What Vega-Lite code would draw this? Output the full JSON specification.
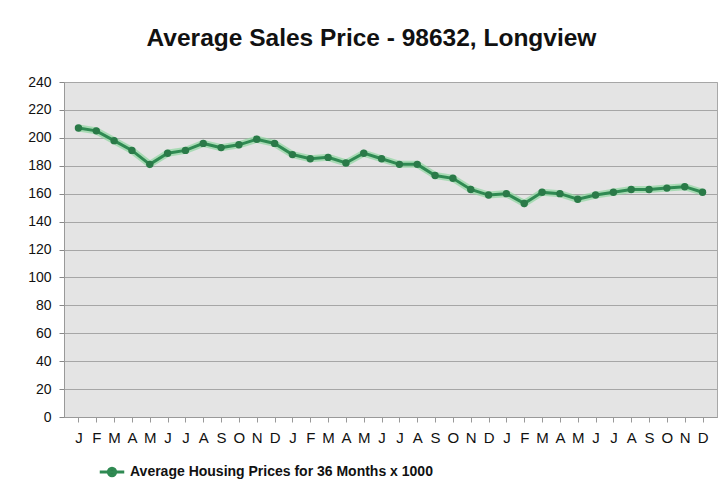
{
  "$schema": "https://vega.github.io/schema/vega-lite/v6.json",
  "width": 653,
  "height": 335,
  "autosize": "none",
  "padding": {"left": 64, "top": 82, "right": 11, "bottom": 71},
  "background": "white",
  "title": {
    "text": "Average Sales Price - 98632, Longview",
    "font": "Liberation Sans",
    "fontSize": 24.5,
    "fontWeight": "bold",
    "color": "#111111",
    "anchor": "middle",
    "dx": -19,
    "offset": 24
  },
  "data": {
    "values": [
      {"idx": 1, "price": 207, "series": "Average Housing Prices for 36 Months x 1000"},
      {"idx": 2, "price": 205, "series": "Average Housing Prices for 36 Months x 1000"},
      {"idx": 3, "price": 198, "series": "Average Housing Prices for 36 Months x 1000"},
      {"idx": 4, "price": 191, "series": "Average Housing Prices for 36 Months x 1000"},
      {"idx": 5, "price": 181, "series": "Average Housing Prices for 36 Months x 1000"},
      {"idx": 6, "price": 189, "series": "Average Housing Prices for 36 Months x 1000"},
      {"idx": 7, "price": 191, "series": "Average Housing Prices for 36 Months x 1000"},
      {"idx": 8, "price": 196, "series": "Average Housing Prices for 36 Months x 1000"},
      {"idx": 9, "price": 193, "series": "Average Housing Prices for 36 Months x 1000"},
      {"idx": 10, "price": 195, "series": "Average Housing Prices for 36 Months x 1000"},
      {"idx": 11, "price": 199, "series": "Average Housing Prices for 36 Months x 1000"},
      {"idx": 12, "price": 196, "series": "Average Housing Prices for 36 Months x 1000"},
      {"idx": 13, "price": 188, "series": "Average Housing Prices for 36 Months x 1000"},
      {"idx": 14, "price": 185, "series": "Average Housing Prices for 36 Months x 1000"},
      {"idx": 15, "price": 186, "series": "Average Housing Prices for 36 Months x 1000"},
      {"idx": 16, "price": 182, "series": "Average Housing Prices for 36 Months x 1000"},
      {"idx": 17, "price": 189, "series": "Average Housing Prices for 36 Months x 1000"},
      {"idx": 18, "price": 185, "series": "Average Housing Prices for 36 Months x 1000"},
      {"idx": 19, "price": 181, "series": "Average Housing Prices for 36 Months x 1000"},
      {"idx": 20, "price": 181, "series": "Average Housing Prices for 36 Months x 1000"},
      {"idx": 21, "price": 173, "series": "Average Housing Prices for 36 Months x 1000"},
      {"idx": 22, "price": 171, "series": "Average Housing Prices for 36 Months x 1000"},
      {"idx": 23, "price": 163, "series": "Average Housing Prices for 36 Months x 1000"},
      {"idx": 24, "price": 159, "series": "Average Housing Prices for 36 Months x 1000"},
      {"idx": 25, "price": 160, "series": "Average Housing Prices for 36 Months x 1000"},
      {"idx": 26, "price": 153, "series": "Average Housing Prices for 36 Months x 1000"},
      {"idx": 27, "price": 161, "series": "Average Housing Prices for 36 Months x 1000"},
      {"idx": 28, "price": 160, "series": "Average Housing Prices for 36 Months x 1000"},
      {"idx": 29, "price": 156, "series": "Average Housing Prices for 36 Months x 1000"},
      {"idx": 30, "price": 159, "series": "Average Housing Prices for 36 Months x 1000"},
      {"idx": 31, "price": 161, "series": "Average Housing Prices for 36 Months x 1000"},
      {"idx": 32, "price": 163, "series": "Average Housing Prices for 36 Months x 1000"},
      {"idx": 33, "price": 163, "series": "Average Housing Prices for 36 Months x 1000"},
      {"idx": 34, "price": 164, "series": "Average Housing Prices for 36 Months x 1000"},
      {"idx": 35, "price": 165, "series": "Average Housing Prices for 36 Months x 1000"},
      {"idx": 36, "price": 161, "series": "Average Housing Prices for 36 Months x 1000"}
    ]
  },
  "encoding": {
    "x": {
      "field": "idx",
      "type": "ordinal",
      "scale": {"type": "point", "padding": 0.81},
      "axis": {
        "title": null,
        "labelAngle": 0,
        "labelExpr": "['J','F','M','A','M','J','J','A','S','O','N','D'][(datum.value - 1) % 12]",
        "labelFont": "Liberation Sans",
        "labelFontSize": 15,
        "labelColor": "#111111",
        "labelPadding": 8,
        "tickColor": "#999999",
        "tickSize": 5,
        "domainColor": "#999999",
        "grid": false
      }
    },
    "y": {
      "field": "price",
      "type": "quantitative",
      "scale": {"domain": [0, 240], "nice": false},
      "axis": {
        "title": null,
        "values": [0, 20, 40, 60, 80, 100, 120, 140, 160, 180, 200, 220, 240],
        "labelFont": "Liberation Sans",
        "labelFontSize": 14,
        "labelColor": "#111111",
        "labelPadding": 8,
        "tickColor": "#888888",
        "tickSize": 5,
        "domainColor": "#999999",
        "grid": true,
        "gridColor": "#a6a6a6",
        "gridWidth": 1
      }
    }
  },
  "layer": [
    {
      "mark": {"type": "line", "color": "#8fd6a0", "strokeWidth": 7, "opacity": 0.7}
    },
    {
      "mark": {"type": "line", "strokeWidth": 3},
      "encoding": {
        "color": {
          "field": "series",
          "type": "nominal",
          "scale": {"range": ["#2f8a52"]},
          "legend": {
            "title": null,
            "orient": "none",
            "legendX": 34,
            "legendY": 376,
            "symbolType": "M-1,0H1M-0.3,0A0.3,0.3,0,1,1,0.3,0A0.3,0.3,0,1,1,-0.3,0Z",
            "symbolSize": 600,
            "symbolStrokeWidth": 3,
            "symbolFillColor": "#2a7a48",
            "symbolStrokeColor": "#2f8a52",
            "labelFont": "Liberation Sans",
            "labelFontSize": 14,
            "labelFontWeight": "bold",
            "labelColor": "#111111",
            "labelLimit": 500
          }
        }
      }
    },
    {
      "mark": {"type": "point", "filled": true, "shape": "circle", "size": 55, "color": "#2a7a48", "opacity": 1}
    }
  ],
  "config": {
    "view": {"fill": "#e4e4e4", "stroke": "#a8a8a8", "strokeWidth": 1}
  }
}
